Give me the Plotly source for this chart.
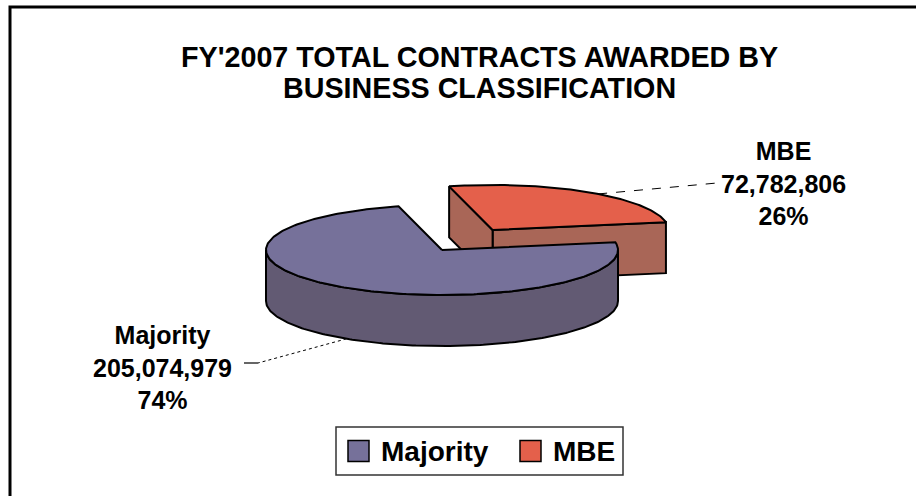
import numpy as np
import plotly.graph_objects as go

# ---- data -------------------------------------------------------------
categories = ["Majority", "MBE"]
amounts = [205074979, 72782806]
amount_labels = ["205,074,979", "72,782,806"]
percent_labels = ["74%", "26%"]

title_lines = ["FY'2007 TOTAL CONTRACTS AWARDED BY", "BUSINESS CLASSIFICATION"]

# ---- style ------------------------------------------------------------
FONT = "Liberation Sans, Arial, sans-serif"
top_colors = {"Majority": "#76719A", "MBE": "#E4604B"}
side_colors = {"Majority": "#625A73", "MBE": "#A96657"}
exploded = {"Majority": 0.0, "MBE": 0.53}

W, H = 916, 496
CX, CY = 442, 250          # centre of the pie's top face
RX, RY = 176, 45           # radii of the projected ellipse
DEPTH = 51                 # thickness of the disc
START_DEG = 10             # first slice starts here, running counter-clockwise

# slices are laid out from the last category backwards (MBE first)
order = categories[::-1]
vals = dict(zip(categories, amounts))
total = float(sum(amounts))


def ell(cx, cy, deg, r=1.0, dz=0.0):
    t = np.radians(deg)
    return cx + RX * r * np.cos(t), cy - RY * r * np.sin(t) + dz


def arc(cx, cy, a0, a1, dz=0.0, n=None):
    n = n or max(int(abs(a1 - a0)), 2)
    ang = np.linspace(a0, a1, n)
    xs, ys = ell(cx, cy, ang, 1.0, dz)
    return list(xs), list(ys)


slices = {}
a = START_DEG
for name in order:
    span = vals[name] / total * 360.0
    mid = a + span / 2
    dx, dy = ell(0, 0, mid, exploded[name])
    slices[name] = dict(a0=a, a1=a + span, mid=mid, cx=CX + dx, cy=CY + dy)
    a += span

fig = go.Figure()


def poly(xs, ys, color, name):
    fig.add_trace(go.Scatter(
        x=xs + [xs[0]], y=ys + [ys[0]], mode="lines", fill="toself",
        fillcolor=color, line=dict(color="black", width=2),
        hoverinfo="skip", showlegend=False, name=name))


# back slices first (smaller y of centre = further away)
for name in sorted(order, key=lambda k: slices[k]["cy"]):
    s = slices[name]
    cx, cy, a0, a1 = s["cx"], s["cy"], s["a0"], s["a1"]
    sc = side_colors[name]
    # radial wall at the start angle
    if np.cos(np.radians(a0)) > 0 and exploded[name] > 0:
        x1, y1 = ell(cx, cy, a0)
        poly([cx, x1, x1, cx], [cy, y1, y1 + DEPTH, cy + DEPTH], sc, name)
    # radial wall at the end angle
    if np.cos(np.radians(a1)) < 0 and exploded[name] > 0:
        x1, y1 = ell(cx, cy, a1)
        poly([cx, x1, x1, cx], [cy, y1, y1 + DEPTH, cy + DEPTH], sc, name)
    # curved outer wall, front half only
    for k in range(-1, 3):
        lo = max(a0, 180 + 360 * k)
        hi = min(a1, 360 + 360 * k)
        if hi > lo:
            tx, ty = arc(cx, cy, lo, hi)
            bx, by = arc(cx, cy, hi, lo, DEPTH)
            poly(tx + bx, ty + by, sc, name)
    # top face
    tx, ty = arc(cx, cy, a0, a1)
    poly([cx] + tx, [cy] + ty, top_colors[name], name)

# ---- data labels with leader lines --------------------------------------
label_pos = {"Majority": (162, 367), "MBE": (783, 183)}
for i, name in enumerate(categories):
    s = slices[name]
    lx, ly = label_pos[name]
    if name == "MBE":
        px, py = ell(s["cx"], s["cy"], s["mid"] - 4)
        fig.add_trace(go.Scatter(x=[px, lx - 66], y=[py, ly], mode="lines",
                                 line=dict(color="black", width=1, dash="dash"),
                                 hoverinfo="skip", showlegend=False))
    else:
        px, py = ell(s["cx"], s["cy"], s["mid"], 1.0, DEPTH)
        fig.add_trace(go.Scatter(x=[px, lx + 96], y=[py, ly - 4], mode="lines",
                                 line=dict(color="black", width=1, dash="dot"),
                                 hoverinfo="skip", showlegend=False))
        fig.add_trace(go.Scatter(x=[lx + 96, lx + 82], y=[ly - 4, ly - 4], mode="lines",
                                 line=dict(color="black", width=1.2),
                                 hoverinfo="skip", showlegend=False))
    fig.add_annotation(x=lx, y=ly, xref="x", yref="y", showarrow=False,
                       text=f"{name}<br>{amount_labels[i]}<br>{percent_labels[i]}",
                       font=dict(family=FONT, size=25, color="black", weight="bold"),
                       align="center", xanchor="center", yanchor="middle")

# ---- legend: bordered box with a swatch and name per category ----------
LEG_BOX = (336, 427, 623, 475)
LEG_SWATCH_X = {"Majority": 348, "MBE": 520}
SW = 21
leg_mid = (LEG_BOX[1] + LEG_BOX[3]) / 2
fig.add_shape(type="rect", xref="x", yref="y", x0=LEG_BOX[0], y0=LEG_BOX[1],
              x1=LEG_BOX[2], y1=LEG_BOX[3], line=dict(color="#333333", width=1.5),
              fillcolor="white")
for name in categories:
    x0 = LEG_SWATCH_X[name]
    fig.add_shape(type="rect", xref="x", yref="y", x0=x0, y0=leg_mid - SW / 2,
                  x1=x0 + SW, y1=leg_mid + SW / 2,
                  line=dict(color="black", width=1.5), fillcolor=top_colors[name])
    fig.add_annotation(x=x0 + SW + 10, y=leg_mid, xref="x", yref="y", showarrow=False,
                       text=name, xanchor="left", yanchor="middle",
                       font=dict(family=FONT, size=28, color="black", weight="bold"))

# ---- title -------------------------------------------------------------
for j, line in enumerate(title_lines):
    fig.add_annotation(x=479, y=57 + 31 * j, xref="x", yref="y", showarrow=False,
                       text=line, xanchor="center", yanchor="middle",
                       font=dict(family=FONT, size=28.7, color="black", weight="bold"))

# outer frame
fig.add_shape(type="rect", xref="x", yref="y", x0=10, y0=7, x1=W + 30, y1=H + 30,
              line=dict(color="black", width=3), fillcolor="rgba(0,0,0,0)")

fig.update_layout(
    width=W, height=H, margin=dict(l=0, r=0, t=0, b=0),
    paper_bgcolor="white", plot_bgcolor="white",
    xaxis=dict(range=[0, W], visible=False, fixedrange=True),
    yaxis=dict(range=[H, 0], visible=False, fixedrange=True),
    showlegend=False,
)

fig.write_html("out.html")
